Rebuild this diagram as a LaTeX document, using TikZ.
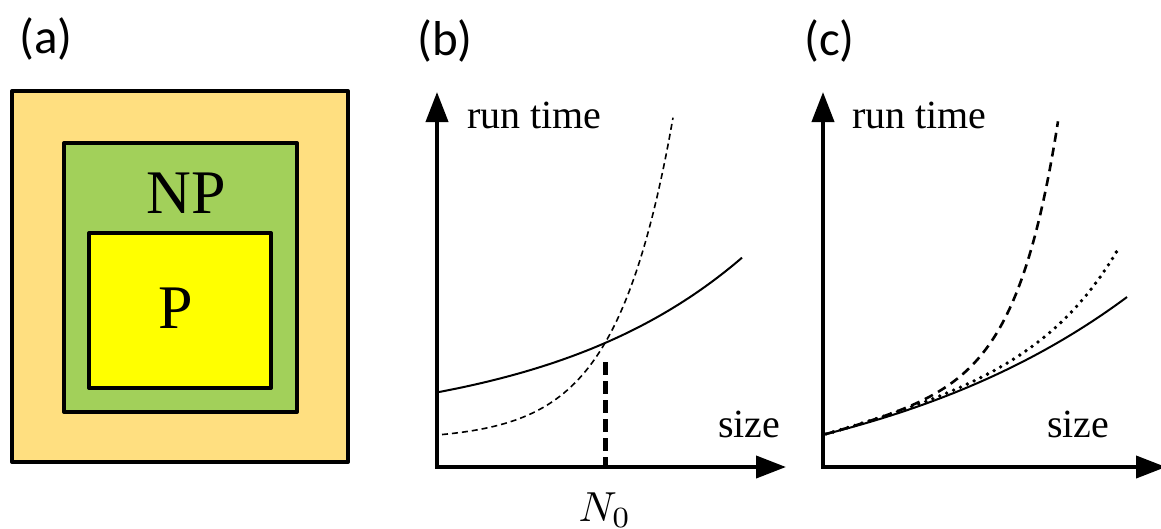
\documentclass[tikz,border=0pt]{standalone}
\usepackage{fontspec}
\setmainfont{Liberation Serif}
\newfontfamily\labfont{Carlito}
\usetikzlibrary{arrows.meta}
\definecolor{outerfill}{HTML}{FFDF80}
\definecolor{npfill}{HTML}{A2D05A}
\definecolor{pfill}{HTML}{FFFF00}
\begin{document}
\begin{tikzpicture}[x=1pt,y=-1pt,
  setbox/.style={draw=black,line width=4pt,line join=round},
  axis/.style={line width=4pt,-{Triangle[length=30pt,width=22pt]}},
  panellab/.style={font=\labfont\fontsize{49}{54}\selectfont,anchor=base west,inner sep=0pt},
  axlab/.style={font=\fontsize{40}{46}\selectfont,anchor=base west,inner sep=0pt},
  setlab/.style={font=\fontsize{62}{70}\selectfont,anchor=base,inner sep=0pt},
  curve/.style={line width=2pt},
  fdash/.style={line width=1.6pt,dash pattern=on 6pt off 4pt},
  bdash/.style={line width=2.6pt,dash pattern=on 9pt off 6pt},
  dotc/.style={line width=3.8pt,line cap=round,dash pattern=on 0pt off 7.5pt},
  ndash/.style={line width=5pt,dash pattern=on 13pt off 6pt}]
\useasboundingbox (0,0) rectangle (1161,528);
% panel (a)
\node[panellab] (la) at (19,53) {(a)};
\draw[setbox,fill=outerfill] (12,91) rectangle (348,462);
\draw[setbox,fill=npfill] (64,143) rectangle (297,412);
\draw[setbox,fill=pfill] (89,233) rectangle (271,388);
\node[setlab] (np) at (186,213) {NP};
\node[setlab] (p) at (176,328) {P};
% panel (b)
\node[panellab] (lb) at (417,55) {(b)};
\coordinate (bo) at (437,467);
\coordinate (by) at (437,92);
\coordinate (bx) at (786,467);
\draw[axis] (bo) -- (by);
\draw[axis] ([xshift=-2pt]bo) -- (bx);
\node[axlab] (brt) at (467,128) {run time};
\node[axlab] (bsz) at (718,437) {size};
\draw[curve,domain=439:742,samples=60,smooth] plot (\x,{430-38*exp(0.004989*(\x-439))});
\draw[fdash,domain=442:673,samples=60,smooth] plot (\x,{440-5.46*exp(0.01765*(\x-442))});
\coordinate (n0top) at (605,362);
\coordinate (n0bot) at (605,466);
\draw[ndash] (n0top) -- (n0bot);
\node[anchor=base,inner sep=0pt] (n0) at (605,521) {\scalebox{4.2}{$N_0$}};
% panel (c)
\node[panellab] (lc) at (804,55) {(c)};
\coordinate (co) at (823,467);
\coordinate (cy) at (823,92);
\coordinate (cx) at (1166,467);
\draw[axis] (co) -- (cy);
\draw[axis] ([xshift=-2pt]co) -- (cx);
\node[axlab] (crt) at (852,128) {run time};
\node[axlab] (csz) at (1047,437) {size};
\draw[curve,domain=825:1127,samples=60,smooth] plot (\x,{434-71*(exp(0.003563*(\x-826))-1)});
\draw[dotc,domain=826:1118,samples=60,smooth] plot (\x,{434-0.26*(\x-826)-2.5*(exp(0.013*(\x-826))-1)});
\draw[bdash,domain=826:1058,samples=80,smooth] plot (\x,{434-0.26*(\x-826)-0.923*(exp(0.0242*(\x-826))-1)});
\end{tikzpicture}
\end{document}
